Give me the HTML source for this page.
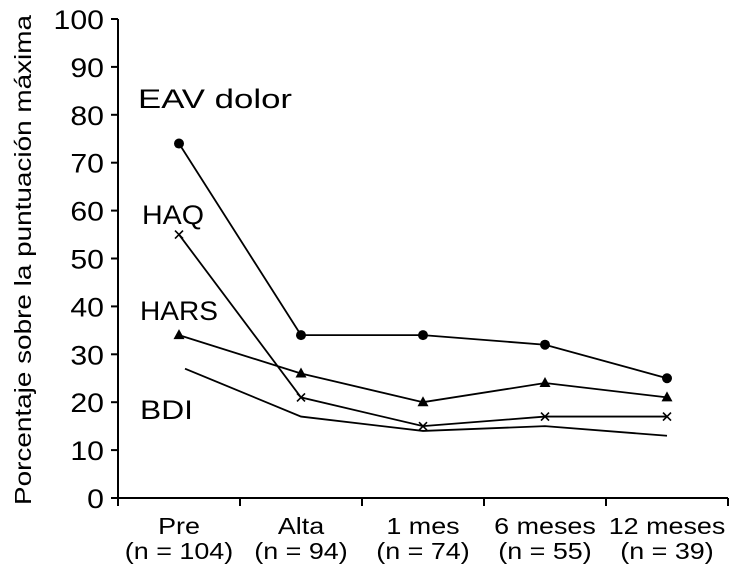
<!DOCTYPE html>
<html><head><meta charset="utf-8">
<style>
body{margin:0;background:#fff;}
svg{display:block;font-family:"Liberation Sans",sans-serif;}
</style></head>
<body>
<svg id="c" width="730" height="573">
<text x="31" y="260" font-size="23" text-anchor="middle" textLength="490" lengthAdjust="spacingAndGlyphs" transform="rotate(-90 31 260)">Porcentaje sobre la puntuación máxima</text>
<g id="axes"></g>
<g id="series"></g>
<text x="138" y="108" font-size="27" textLength="154" lengthAdjust="spacingAndGlyphs">EAV dolor</text>
<text x="142" y="224" font-size="27" textLength="62" lengthAdjust="spacingAndGlyphs">HAQ</text>
<text x="140" y="320" font-size="27" textLength="78" lengthAdjust="spacingAndGlyphs">HARS</text>
<text x="140" y="419" font-size="27" textLength="53" lengthAdjust="spacingAndGlyphs">BDI</text>
</svg>
<script>
const categories=["Pre","Alta","1 mes","6 meses","12 meses"];
const sampleSizes=["(n = 104)","(n = 94)","(n = 74)","(n = 55)","(n = 39)"];
const yTicks=[0,10,20,30,40,50,60,70,80,90,100];
const eav=[74,34,34,32,25];
const haq=[55,21,15,17,17];
const hars=[34,26,20,24,21];
const bdi=[27,17,14,15,13];
const NS="http://www.w3.org/2000/svg";
const x0=118,bw=122,yb=498,yt=19;
const X=i=>x0+bw*(i+0.5);
const Y=v=>yb-(v/100)*(yb-yt);
function mk(t,a,p){const e=document.createElementNS(NS,t);for(const k in a)e.setAttribute(k,a[k]);p.appendChild(e);return e;}
const ax=document.getElementById('axes'),se=document.getElementById('series');
let l=mk('line',{x1:x0,y1:yt,x2:x0,y2:yb,stroke:'#000','stroke-width':2},ax);


l=mk('line',{x1:x0,y1:yb,x2:x0+bw*5,y2:yb,stroke:'#000','stroke-width':2},ax);


yTicks.forEach(v=>{
 mk('line',{x1:x0-7,y1:Y(v),x2:x0,y2:Y(v),stroke:'#000','stroke-width':2},ax);
 const t=mk('text',{x:0,y:0,'font-size':27,'text-anchor':'end',transform:`translate(104,${Y(v)+10}) scale(1.12,1)`},ax);
 t.textContent=v;
 
 
});
for(let i=0;i<=5;i++)mk('line',{x1:x0+bw*i,y1:yb,x2:x0+bw*i,y2:yb+8,stroke:'#000','stroke-width':2},ax);
categories.forEach((c,i)=>{
 const t=mk('text',{x:0,y:0,'font-size':23,'text-anchor':'middle',transform:`translate(${X(i)},534) scale(1.17,1)`},ax);t.textContent=c;
 
 
 const n=mk('text',{x:0,y:0,'font-size':23,'text-anchor':'middle',transform:`translate(${X(i)},559) scale(1.17,1)`},ax);n.textContent=sampleSizes[i];
 
 
});
function line(d,name,marker,offset){
 const pts=d.map((v,i)=>(X(i)+(i==0?offset:0))+','+Y(v)).join(' ');
 const p=mk('polyline',{points:pts,fill:'none',stroke:'#000','stroke-width':1.8},se);
 
 
 d.forEach((v,i)=>{
  const x=X(i),y=Y(v);let m;
  if(marker=='circle')m=mk('circle',{cx:x,cy:y,r:5,fill:'#000'},se);
  else if(marker=='tri')m=mk('polygon',{points:`${x},${y-6} ${x-5.5},${y+4} ${x+5.5},${y+4}`,fill:'#000'},se);
  else if(marker=='x')m=mk('path',{d:`M${x-4},${y-4}L${x+4},${y+4}M${x-4},${y+4}L${x+4},${y-4}`,stroke:'#000','stroke-width':1.6},se);
  else return;
  
  
 });
}
line(eav,'eav-dolor','circle',0);
line(haq,'haq','x',0);
line(hars,'hars','tri',0);
line(bdi,'bdi','none',6);
</script>
</body></html>
